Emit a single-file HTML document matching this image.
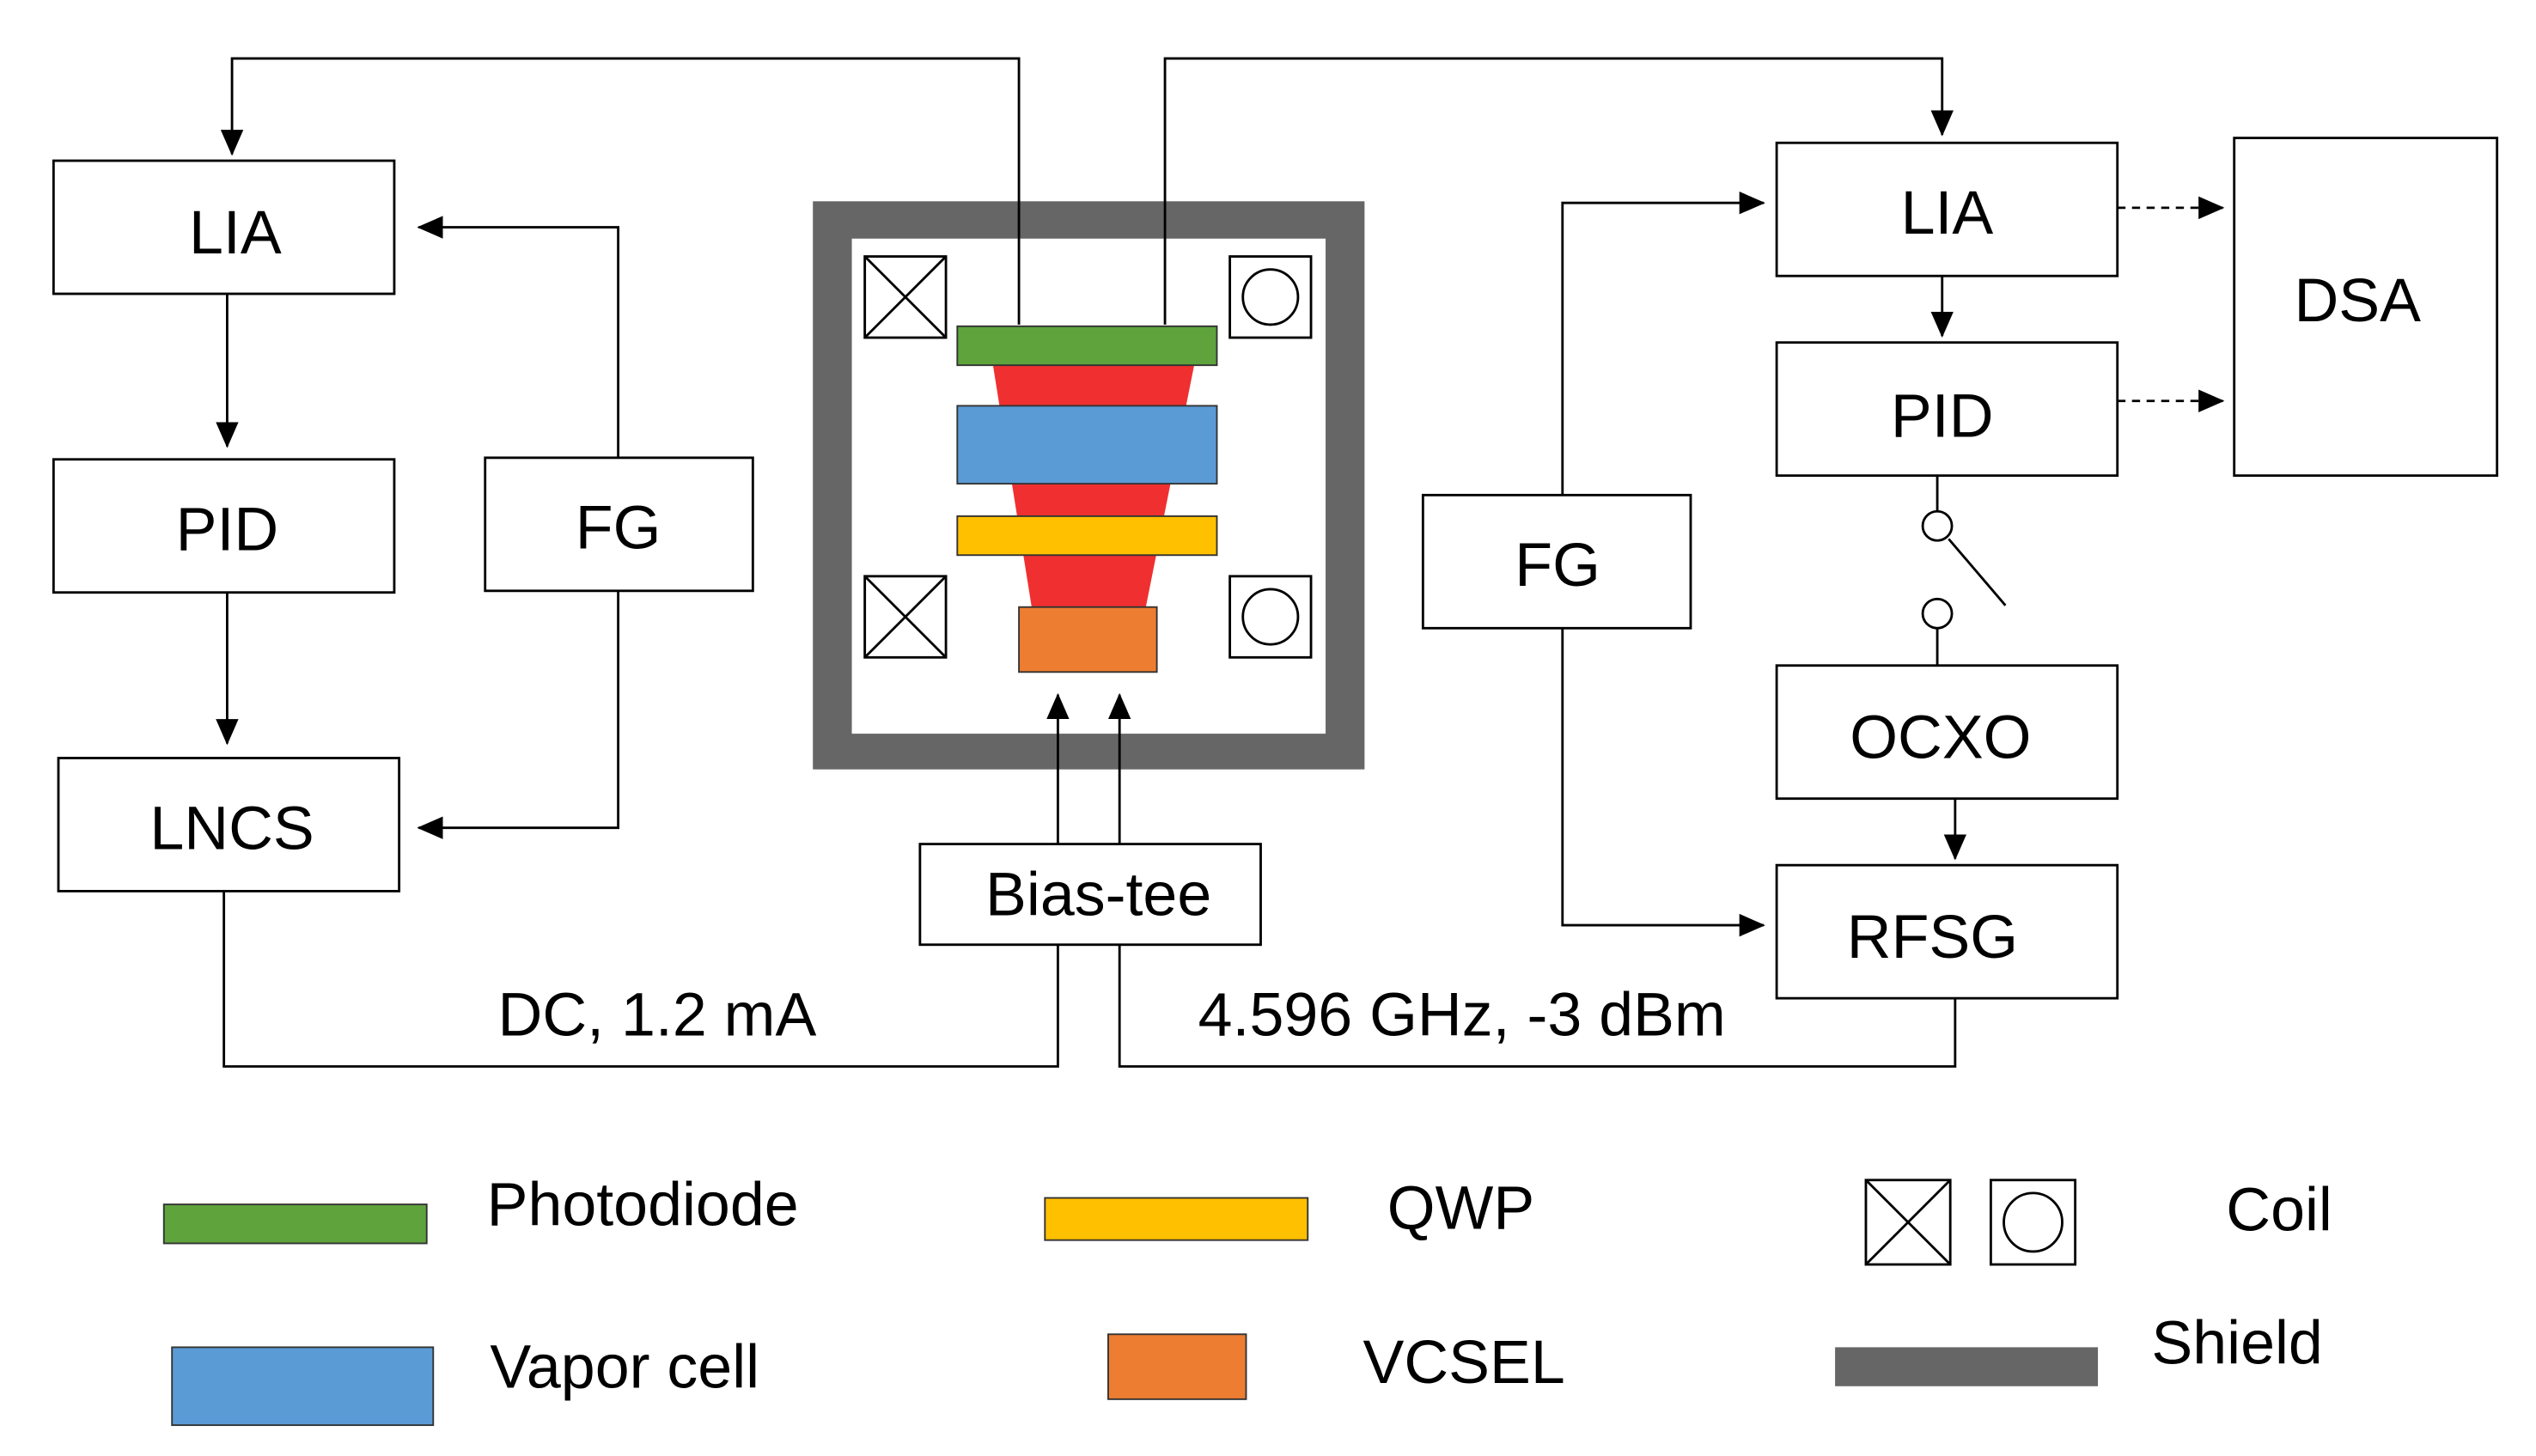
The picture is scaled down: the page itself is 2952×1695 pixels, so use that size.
<!DOCTYPE html>
<html><head><meta charset="utf-8"><style>html,body{margin:0;padding:0;background:#fff}svg{display:block}</style></head><body>
<svg width="2952" height="1695" viewBox="0 0 1563 897" preserveAspectRatio="none" xmlns="http://www.w3.org/2000/svg" font-family="Liberation Sans, sans-serif" font-size="38">
<defs><marker id="b" markerWidth="16" markerHeight="14" refX="15" refY="7" orient="auto" markerUnits="userSpaceOnUse"><path d="M0,0 L16,7 L0,14z" fill="#000"/></marker></defs>
<rect x="501" y="124" width="340" height="350" fill="#666"/>
<rect x="525" y="147" width="292" height="305" fill="#fff"/>
<polygon points="612,225 736,225 706,375 636,375" fill="#f03030"/>
<g fill="none" stroke="#000" stroke-width="1.5">
<rect x="33" y="99" width="210" height="82"/>
<rect x="33" y="283" width="210" height="82"/>
<rect x="36" y="467" width="210" height="82"/>
<rect x="299" y="282" width="165" height="82"/>
<rect x="567" y="520" width="210" height="62"/>
<rect x="1095" y="88" width="210" height="82"/>
<rect x="1095" y="211" width="210" height="82"/>
<rect x="1377" y="85" width="162" height="208"/>
<rect x="1095" y="410" width="210" height="82"/>
<rect x="1095" y="533" width="210" height="82"/>
<rect x="877" y="305" width="165" height="82"/>
<polyline points="140,181 140,275" marker-end="url(#b)"/>
<polyline points="140,365 140,458" marker-end="url(#b)"/>
<polyline points="381,282 381,140 258,140" marker-end="url(#b)"/>
<polyline points="381,364 381,510 258,510" marker-end="url(#b)"/>
<polyline points="628,200 628,36 143,36 143,95" marker-end="url(#b)"/>
<polyline points="718,200 718,36 1197,36 1197,83" marker-end="url(#b)"/>
<polyline points="652,520 652,428" marker-end="url(#b)"/>
<polyline points="690,520 690,428" marker-end="url(#b)"/>
<polyline points="138,549 138,657 652,657 652,582"/>
<polyline points="690,582 690,657 1205,657 1205,615"/>
<polyline points="1197,170 1197,207" marker-end="url(#b)"/>
<polyline points="1205,492 1205,529" marker-end="url(#b)"/>
<polyline points="963,305 963,125 1087,125" marker-end="url(#b)"/>
<polyline points="963,387 963,570 1087,570" marker-end="url(#b)"/>
<line x1="1305" y1="128" x2="1370" y2="128" stroke-dasharray="5,4" marker-end="url(#b)"/>
<line x1="1305" y1="247" x2="1370" y2="247" stroke-dasharray="5,4" marker-end="url(#b)"/>
<line x1="1194" y1="293" x2="1194" y2="315"/>
<circle cx="1194" cy="324" r="9"/>
<line x1="1201" y1="332" x2="1236" y2="373"/>
<circle cx="1194" cy="378" r="9"/>
<line x1="1194" y1="387" x2="1194" y2="410"/>
</g>
<rect x="590" y="201" width="160" height="24" fill="#5ea33c" stroke="#333"/>
<rect x="590" y="250" width="160" height="48" fill="#5b9bd5" stroke="#333"/>
<rect x="590" y="318" width="160" height="24" fill="#ffc000" stroke="#333"/>
<rect x="628" y="374" width="85" height="40" fill="#ed7d31" stroke="#333"/>
<g fill="none" stroke="#000" stroke-width="1.5">
<rect x="533" y="158" width="50" height="50"/><path d="M533,158 L583,208 M583,158 L533,208"/>
<rect x="533" y="355" width="50" height="50"/><path d="M533,355 L583,405 M583,355 L533,405"/>
<rect x="758" y="158" width="50" height="50"/><circle cx="783" cy="183" r="17"/>
<rect x="758" y="355" width="50" height="50"/><circle cx="783" cy="380" r="17"/>
<rect x="1150" y="727" width="52" height="52"/><path d="M1150,727 L1202,779 M1202,727 L1150,779"/>
<rect x="1227" y="727" width="52" height="52"/><circle cx="1253" cy="753" r="18"/>
</g>
<rect x="101" y="742" width="162" height="24" fill="#5ea33c" stroke="#333"/>
<rect x="106" y="830" width="161" height="48" fill="#5b9bd5" stroke="#333"/>
<rect x="644" y="738" width="162" height="26" fill="#ffc000" stroke="#333"/>
<rect x="683" y="822" width="85" height="40" fill="#ed7d31" stroke="#333"/>
<rect x="1131" y="830" width="162" height="24" fill="#666"/>
<g text-anchor="middle">
<text x="145" y="156">LIA</text>
<text x="140" y="339">PID</text>
<text x="143" y="523">LNCS</text>
<text x="381" y="338">FG</text>
<text x="677" y="564">Bias-tee</text>
<text x="1200" y="144">LIA</text>
<text x="1197" y="269">PID</text>
<text x="1453" y="198">DSA</text>
<text x="1196" y="467">OCXO</text>
<text x="1191" y="590">RFSG</text>
<text x="960" y="361">FG</text>
<text x="405" y="638">DC, 1.2 mA</text>
<text x="901" y="638">4.596 GHz, -3 dBm</text>
</g>
<text x="300" y="755">Photodiode</text>
<text x="302" y="855">Vapor cell</text>
<text x="855" y="757">QWP</text>
<text x="840" y="852">VCSEL</text>
<text x="1372" y="758">Coil</text>
<text x="1326" y="840">Shield</text>
</svg>
</body></html>
